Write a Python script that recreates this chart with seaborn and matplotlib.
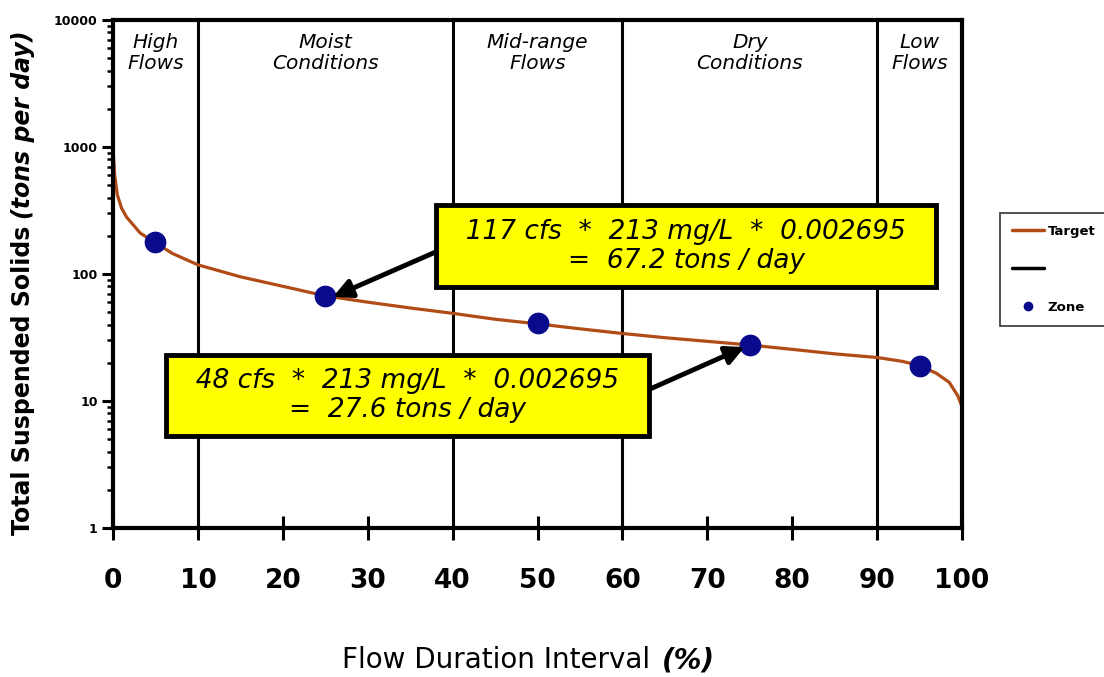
import numpy as np
import pandas as pd
import matplotlib
matplotlib.use("Agg")
import matplotlib.pyplot as plt
import seaborn as sns
from matplotlib.lines import Line2D
from matplotlib.ticker import FixedLocator, LogLocator, NullFormatter

# ------------------------------
# DATA
# ------------------------------
curve_x = [0, 0.2, 0.5, 1, 1.6, 3.2, 5, 7, 10, 15, 20, 25, 30, 35, 40, 45,
           50, 55, 60, 65, 70, 75, 80, 85, 90, 93, 95, 97, 98.5, 99.5, 100]
curve_y = [950, 600, 420, 330, 280, 210, 176, 145, 118, 95, 80, 67.2, 60, 54,
           49, 44, 40.5, 37, 34, 31.5, 29.5, 27.6, 25.5, 23.5, 22, 20.5, 19,
           16.5, 14, 11, 9]

zone_x = [5, 25, 50, 75, 95]
zone_y = [180, 67.2, 41, 27.6, 19]

zone_bounds = [10, 40, 60, 90]
zone_names = ["High\nFlows", "Moist\nConditions", "Mid-range\nFlows",
              "Dry\nConditions", "Low\nFlows"]
zone_centers = [5, 25, 50, 75, 95]

y_ticks = [1, 10, 100, 1000, 10000]
x_ticks = [0, 10, 20, 30, 40, 50, 60, 70, 80, 90, 100]

note_hi = ["117 cfs  *  213 mg/L  *  0.002695", "=  67.2 tons / day"]
note_lo = ["48 cfs  *  213 mg/L  *  0.002695", "=  27.6 tons / day"]

curve = pd.DataFrame({"fdi": curve_x, "tss": curve_y})
zones = pd.DataFrame({"fdi": zone_x, "tss": zone_y})

# ------------------------------
# STYLE
# ------------------------------
sns.set_style("ticks")
plt.rcParams["font.family"] = ["DejaVu Sans"]
for key in ["text.color", "axes.edgecolor", "axes.labelcolor",
            "xtick.color", "ytick.color"]:
    plt.rcParams[key] = "black"
narrow = ["Liberation Sans Narrow", "DejaVu Sans"]

brown = "#B24C16"
navy = "#0A0A8C"

fig = plt.figure(figsize=(11.04, 6.77), dpi=100)
ax = fig.add_axes([0.1024, 0.2201, 0.7690, 0.7504])

sns.lineplot(data=curve, x="fdi", y="tss", color=brown, lw=2.3, ax=ax)
sns.scatterplot(data=zones, x="fdi", y="tss", color=navy, s=210,
                edgecolor=navy, zorder=5, ax=ax)

ax.set_yscale("log")
ax.set_xlim(0, 100)
ax.set_ylim(1, 10000)

for b in zone_bounds:
    ax.axvline(b, color="black", lw=2.2, zorder=1)

for cx, name in zip(zone_centers, zone_names):
    ax.text(cx, 0.975, name, transform=ax.get_xaxis_transform(),
            ha="center", va="top", fontsize=14.5, fontstyle="italic",
            linespacing=1.15)

# axes frame and ticks
for sp in ax.spines.values():
    sp.set_linewidth(3)
ax.xaxis.set_major_locator(FixedLocator(x_ticks))
ax.set_xticklabels([str(v) for v in x_ticks], family=narrow,
                   fontweight="bold", fontsize=19)
ax.tick_params(axis="x", direction="inout", length=17, width=2.2, pad=20)

ax.yaxis.set_major_locator(FixedLocator(y_ticks))
ax.yaxis.set_minor_locator(LogLocator(base=10, subs=range(2, 10)))
ax.yaxis.set_minor_formatter(NullFormatter())
ax.set_yticklabels([str(v) for v in y_ticks], family=narrow,
                   fontweight="bold", fontsize=9)
ax.tick_params(axis="y", which="major", direction="out", length=8, width=2.2, pad=3)
ax.tick_params(axis="y", which="minor", direction="out", length=4, width=1.8)
ax.set_xlabel("")
ax.set_ylabel("")

# axis titles (plain part + italic part)
ylab = fig.text(0.021, 0.21, "Total Suspended Solids", rotation=90,
                ha="center", va="bottom", fontsize=17, fontweight="bold")
ax.annotate("(tons per day)", xy=(0.5, 1), xycoords=ylab,
            xytext=(0, 5), textcoords="offset points", rotation=90,
            ha="center", va="bottom", fontsize=17, fontweight="bold",
            fontstyle="italic")

xlab = fig.text(0.589, 0.025, "Flow Duration Interval", ha="right",
                va="center", fontsize=20, family=narrow)
ax.annotate("(%)", xy=(1, 0.5), xycoords=xlab, xytext=(8, 0),
            textcoords="offset points", ha="left", va="center",
            fontsize=20, family=narrow, fontweight="bold", fontstyle="italic")

# callout boxes (extra spaces on the first line widen the yellow box)
box = dict(boxstyle="square,pad=0.5", fc="#FFFF00", ec="black", lw=3.5)


def callout(lines, target, anchor, rel):
    txt = "  " + lines[0] + "  \n" + lines[1]
    ax.annotate(txt, xy=target, xytext=anchor,
                ha="center", va="center", multialignment="center",
                fontsize=19, fontstyle="italic", linespacing=1.15, bbox=box,
                arrowprops=dict(arrowstyle="-|>", color="black", lw=3.5,
                                mutation_scale=28, relpos=rel,
                                shrinkA=0, shrinkB=0), zorder=6)


callout(note_hi, (25.9, 66), (67.5, 166), (0, 0.5))
callout(note_lo, (74.4, 26.6), (34.7, 11.1), (1, 0.5))

# legend right of the plot
handles = [Line2D([], [], color=brown, lw=2.5, label="Target"),
           Line2D([], [], color="black", lw=2.5, label=" "),
           Line2D([], [], color=navy, marker="o", ms=6, ls="none", label="Zone")]
leg = fig.legend(handles=handles, loc="upper left",
                 bbox_to_anchor=(1000 / 1104, 1 - 213 / 677),
                 prop=dict(family=narrow, weight="bold", size=9.5),
                 frameon=True, fancybox=False, edgecolor="black",
                 handlelength=2.4, labelspacing=1.9, borderpad=0.9,
                 handletextpad=0.3, borderaxespad=0)
leg.get_frame().set_linewidth(1.2)

fig.savefig("out.png", dpi=100)
